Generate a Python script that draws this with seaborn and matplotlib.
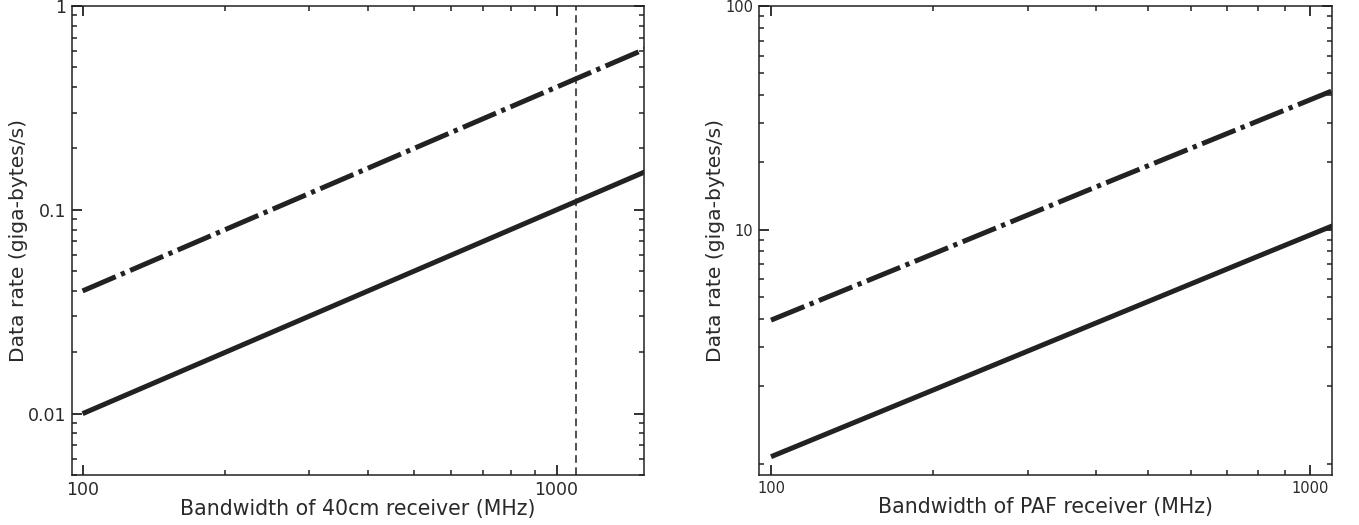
import matplotlib
matplotlib.use("Agg")
import matplotlib.pyplot as plt
from matplotlib.ticker import FixedLocator, FixedFormatter, NullFormatter
import seaborn as sns
import pandas as pd

# 40cm receiver: bandwidth (MHz) vs data rate (GB/s)
bw_40cm = [100, 200, 400, 800, 1600]
rate_40cm_solid = [0.01, 0.02, 0.04, 0.08, 0.16]
rate_40cm_dashdot = [0.04, 0.08, 0.16, 0.32, 0.64]
bw_40cm_limit = 1100

# PAF receiver: bandwidth (MHz) vs data rate (GB/s)
bw_paf = [100, 200, 400, 800, 1100]
rate_paf_solid = [0.966, 1.92, 3.82, 7.6, 10.4]
rate_paf_dashdot = [3.94, 7.8, 15.5, 30.6, 41.8]

left_yticks = [0.01, 0.1, 1]
left_yticklabels = ["0.01", "0.1", "1"]
left_xticks = [100, 1000]
left_xticklabels = ["100", "1000"]
right_yticks = [10, 100]
right_yticklabels = ["10", "100"]
right_xticks = [100, 1000]
right_xticklabels = ["100", "1000"]

sns.set_theme(style="ticks")
plt.rcParams["font.family"] = ["DejaVu Sans"]

ink = "#222222"
text_ink = "#2a2a2a"
dashdot = (0, (7.2, 1.15, 0.85, 1.15))

fig = plt.figure(figsize=(13.59, 5.25), dpi=100)
ax1 = fig.add_axes([0.053, 0.0952, 0.421, 0.8934])
ax2 = fig.add_axes([0.5585, 0.0952, 0.4215, 0.8934])

df40 = pd.DataFrame({"bw": bw_40cm, "solid": rate_40cm_solid, "dd": rate_40cm_dashdot})
dfpaf = pd.DataFrame({"bw": bw_paf, "solid": rate_paf_solid, "dd": rate_paf_dashdot})

for ax, df in ((ax1, df40), (ax2, dfpaf)):
    sns.lineplot(data=df, x="bw", y="solid", ax=ax, color=ink, linewidth=3.6,
                 solid_capstyle="butt")
    sns.lineplot(data=df, x="bw", y="dd", ax=ax, color=ink, linewidth=3.6,
                 linestyle=dashdot, dash_capstyle="butt")
    ax.set_xscale("log")
    ax.set_yscale("log")
    for s in ax.spines.values():
        s.set_linewidth(1.1)
        s.set_color(ink)

ax1.axvline(bw_40cm_limit, color=ink, linewidth=1.1, linestyle=(0, (5, 3)))

ax1.set_xlim(95, 1530)
ax1.set_ylim(0.005, 1)
ax2.set_xlim(95, 1097)
ax2.set_ylim(0.8, 100)

ax1.xaxis.set_major_locator(FixedLocator(left_xticks))
ax1.xaxis.set_major_formatter(FixedFormatter(left_xticklabels))
ax1.yaxis.set_major_locator(FixedLocator(left_yticks))
ax1.yaxis.set_major_formatter(FixedFormatter(left_yticklabels))
ax1.xaxis.set_minor_locator(FixedLocator([v * 100 for v in range(2, 10)]))
ax1.yaxis.set_minor_locator(FixedLocator(
    [v * 0.001 for v in range(5, 10)] + [v * 0.01 for v in range(2, 10)]
    + [v * 0.1 for v in range(2, 10)]))

ax2.xaxis.set_major_locator(FixedLocator(right_xticks))
ax2.xaxis.set_major_formatter(FixedFormatter(right_xticklabels))
ax2.yaxis.set_major_locator(FixedLocator(right_yticks))
ax2.yaxis.set_major_formatter(FixedFormatter(right_yticklabels))
ax2.xaxis.set_minor_locator(FixedLocator([v * 100 for v in range(2, 10)]))
ax2.yaxis.set_minor_locator(FixedLocator(
    [0.9] + list(range(2, 10)) + [v * 10 for v in range(2, 10)]))

for ax in (ax1, ax2):
    ax.xaxis.set_minor_formatter(NullFormatter())
    ax.yaxis.set_minor_formatter(NullFormatter())
    ax.tick_params(which="both", direction="in", top=True, right=True,
                   color=ink, labelcolor=text_ink)
    ax.tick_params(which="major", length=7.5, width=1.3)
    ax.tick_params(which="minor", length=3.8, width=1.1)
    ax.set_ylabel("Data rate (giga-bytes/s)", fontsize=14.6, color=text_ink, labelpad=0)

ax1.tick_params(which="major", labelsize=12.5, pad=4)
ax2.tick_params(which="major", labelsize=10.5, pad=4)

ax1.set_xlabel("Bandwidth of 40cm receiver (MHz)", fontsize=14.8, color=text_ink, labelpad=0)
ax2.set_xlabel("Bandwidth of PAF receiver (MHz)", fontsize=14.8, color=text_ink, labelpad=1)

fig.savefig("out.png", dpi=100, facecolor="white")
